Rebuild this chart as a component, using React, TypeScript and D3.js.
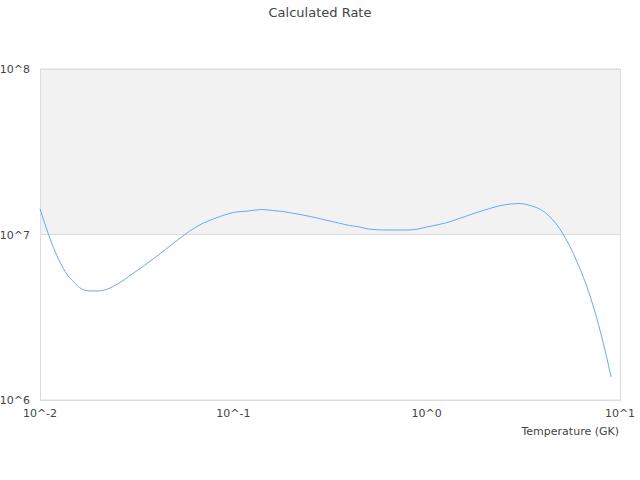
import { useEffect, useRef } from "react";
import * as d3 from "d3";

// Temperature grid (GK) and the rate
const TEMPS = [
  0.01, 0.011, 0.012, 0.013, 0.014, 0.015, 0.016, 0.018, 0.02, 0.025, 0.03, 0.04, 0.05,
  0.06, 0.07, 0.08, 0.09, 0.1, 0.12, 0.14, 0.16, 0.18, 0.2, 0.25, 0.3, 0.35, 0.4, 0.45,
  0.5, 0.6, 0.7, 0.8, 0.9, 1, 1.25, 1.5, 1.75, 2, 2.5, 3, 3.5, 4, 5, 6, 7, 8, 9,
];
const RATES = [
  1.43e7, 1.021e7, 7.84e6, 6.45e6, 5.61e6, 5.16e6, 4.78e6, 4.56e6, 4.56e6, 4.99e6, 5.77e6,
  7.36e6, 9.01e6, 1.057e7, 1.173e7, 1.249e7, 1.312e7, 1.358e7, 1.387e7, 1.416e7, 1.396e7,
  1.377e7, 1.349e7, 1.285e7, 1.224e7, 1.173e7, 1.133e7, 1.11e7, 1.079e7, 1.065e7, 1.065e7,
  1.065e7, 1.079e7, 1.11e7, 1.173e7, 1.258e7, 1.339e7, 1.406e7, 1.508e7, 1.539e7, 1.487e7,
  1.387e7, 1.035e7, 6.82e6, 4.25e6, 2.47e6, 1.377e6,
];
const X_TICKS = [0.01, 0.1, 1, 10];
const X_TICK_LABELS = ["10^-2", "10^-1", "10^0", "10^1"];
const Y_TICKS = [1e6, 1e7, 1e8];
const Y_TICK_LABELS = ["10^6", "10^7", "10^8"];
// shaded bands between decades: [from, to]
const BANDS: [number, number][] = [[1e7, 1e8]];

const W = 640;
const H = 480;
const FONT = "DejaVu Sans, sans-serif";

export default function App() {
  const svgRef = useRef<SVGSVGElement>(null);

  useEffect(() => {
    const svg = d3.select(svgRef.current);
    svg.selectAll("*").remove();

    const margin = { top: 69, right: 20, bottom: 80, left: 40 };
    const innerW = W - margin.left - margin.right;
    const innerH = H - margin.top - margin.bottom;

    const x = d3.scaleLog().domain([0.01, 10]).range([0, innerW]);
    const y = d3.scaleLog().domain([1e6, 1e8]).range([innerH, 0]);

    svg.append("text")
      .attr("x", W / 2).attr("y", 17)
      .attr("text-anchor", "middle")
      .attr("font-family", FONT).attr("font-size", "13px")
      .attr("fill", "#444")
      .text("Calculated Rate");

    const g = svg.append("g").attr("transform", `translate(${margin.left},${margin.top})`);

    for (const [a, b] of BANDS) {
      g.append("rect")
        .attr("x", 0).attr("y", y(b))
        .attr("width", innerW).attr("height", y(a) - y(b))
        .attr("fill", "#f2f2f2");
    }

    // horizontal grid at each decade
    g.selectAll("line.grid")
      .data(Y_TICKS)
      .enter()
      .append("line")
      .attr("class", "grid")
      .attr("x1", 0).attr("x2", innerW)
      .attr("y1", (d) => y(d)).attr("y2", (d) => y(d))
      .attr("stroke", "#dcdcdc");

    // frame
    g.append("rect")
      .attr("x", 0.5).attr("y", 0.5)
      .attr("width", innerW).attr("height", innerH)
      .attr("fill", "none")
      .attr("stroke", "#dcdcdc");

    const line = d3.line<number>()
      .x((_d, i) => x(TEMPS[i]))
      .y((d) => y(d))
      .curve(d3.curveMonotoneX);

    g.append("path")
      .datum(RATES)
      .attr("d", line)
      .attr("fill", "none")
      .attr("stroke", "#64aaf5")
      .attr("stroke-width", 1);

    // y tick labels
    g.selectAll("text.ytick")
      .data(Y_TICKS)
      .enter()
      .append("text")
      .attr("class", "ytick")
      .attr("x", -10).attr("y", (d) => y(d) + 4)
      .attr("text-anchor", "end")
      .attr("font-family", FONT).attr("font-size", "11px")
      .attr("fill", "#444")
      .text((_d, i) => Y_TICK_LABELS[i]);

    // x tick labels
    g.selectAll("text.xtick")
      .data(X_TICKS)
      .enter()
      .append("text")
      .attr("class", "xtick")
      .attr("x", (d) => x(d)).attr("y", innerH + 17)
      .attr("text-anchor", "middle")
      .attr("font-family", FONT).attr("font-size", "11px")
      .attr("fill", "#444")
      .text((_d, i) => X_TICK_LABELS[i]);

    g.append("text")
      .attr("x", innerW - 1).attr("y", innerH + 35)
      .attr("text-anchor", "end")
      .attr("font-family", FONT).attr("font-size", "11px")
      .attr("fill", "#444")
      .text("Temperature (GK)");
  }, []);

  return (
    <svg
      ref={svgRef}
      width={W}
      height={H}
      style={{ position: "absolute", left: 0, top: 0, background: "#fff" }}
    />
  );
}
